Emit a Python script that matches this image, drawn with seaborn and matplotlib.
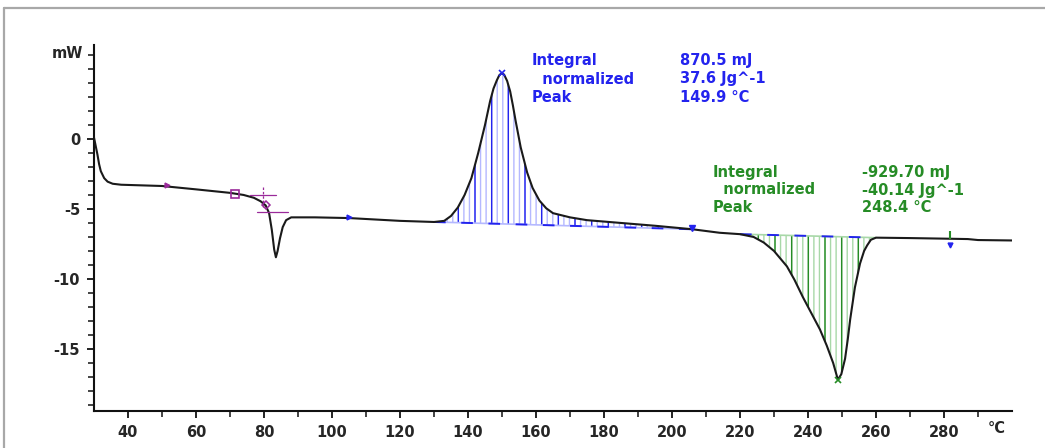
import numpy as np
import pandas as pd
import matplotlib
matplotlib.use("Agg")
import matplotlib.pyplot as plt
import seaborn as sns
from matplotlib.patches import Polygon
from matplotlib.lines import Line2D

# ---------------- data ----------------
temperature = [30.0, 30.5, 31.0, 31.5, 32.0, 33.0, 34.0, 35.5, 38.0, 42.0, 50.0, 60.0,
               70.0, 74.0, 77.0, 79.0, 80.5, 81.5, 82.3, 83.0, 83.5, 84.0, 84.7, 85.5,
               86.5, 88.0, 95.0, 105.0, 120.0, 130.0, 133.0, 135.0, 137.0, 139.0, 141.0,
               143.0, 145.0, 146.5, 147.5, 148.5, 149.2, 149.9, 150.6, 151.5, 152.4,
               153.2, 154.0, 155.5, 157.4, 159.0, 161.0, 163.0, 165.0, 170.0, 175.0,
               185.0, 195.0, 206.0, 214.0, 220.0, 224.0, 227.0, 230.0, 233.8, 236.0,
               238.5, 241.0, 243.5, 245.5, 247.4, 248.8, 249.8, 250.9, 251.7, 252.4,
               253.8, 255.3, 256.5, 257.4, 258.5, 260.0, 270.0, 280.0, 287.0, 290.0, 300.0]
heat_flow = [0.1, -0.5, -1.1, -1.8, -2.3, -2.8, -3.05, -3.2, -3.27, -3.3, -3.36, -3.6,
             -3.85, -4.0, -4.2, -4.45, -4.75, -5.3, -6.5, -7.9, -8.45, -8.0, -7.1, -6.3,
             -5.8, -5.6, -5.6, -5.65, -5.85, -5.93, -5.85, -5.5, -4.9, -4.0, -2.8,
             -1.0, 1.0, 2.7, 3.6, 4.2, 4.55, 4.7, 4.6, 4.15, 3.4,
             2.4, 1.3, -0.6, -2.4, -3.5, -4.4, -4.95, -5.3, -5.6, -5.8,
             -6.0, -6.2, -6.45, -6.7, -6.8, -7.0, -7.4, -8.0, -9.1, -10.05,
             -11.3, -12.45, -13.6, -14.75, -16.0, -17.2, -16.8, -15.7, -14.3, -12.9,
             -10.6, -8.9, -8.0, -7.6, -7.2, -7.05, -7.08, -7.12, -7.15, -7.22, -7.25]

exo_base_T = [130.0, 206.0]
exo_base_H = [-5.93, -6.45]
endo_base_T = [220.0, 260.0]
endo_base_H = [-6.8, -7.05]

exo_peak = (149.9, 4.7)
endo_peak = (248.8, -17.2)

x_ticks = [40, 60, 80, 100, 120, 140, 160, 180, 200, 220, 240, 260, 280]
y_ticks = [0, -5, -10, -15]

blue_labels = ["Integral", "  normalized", "Peak"]
blue_values = ["870.5 mJ", "37.6 Jg^-1", "149.9 \u00b0C"]
green_labels = ["Integral", "  normalized", "Peak"]
green_values = ["-929.70 mJ", "-40.14 Jg^-1", "248.4 \u00b0C"]

# ---------------- style ----------------
sns.set_style("ticks")
plt.rcParams["font.family"] = ["DejaVu Sans"]
plt.rcParams["hatch.linewidth"] = 1.0

BLUE = "#2323ee"
LBLUE = "#b4b8ff"
GREEN = "#268c26"
LGREEN = "#a8d8a8"
PURPLE = "#9a2a9a"

W, H = 1045, 448
fig = plt.figure(figsize=(W / 100, H / 100), dpi=100)
ax = fig.add_axes([94 / W, 1 - 411 / H, (1012 - 94) / W, (411 - 45) / H])

df = pd.DataFrame({"T": temperature, "mW": heat_flow})
T = np.array(temperature)
Hf = np.array(heat_flow)

# hatched areas
def hatched(t0, t1, base_T, base_H, dark, light):
    m = (T > t0) & (T < t1)
    pts = [(base_T[0], base_H[0])] + list(zip(T[m], Hf[m])) + [(base_T[1], base_H[1])]
    ax.add_patch(Polygon(pts, closed=True, fill=False, hatch="|||", edgecolor=light,
                         linewidth=0, zorder=1))
    ax.add_patch(Polygon(pts, closed=True, fill=False, hatch="|", edgecolor=dark,
                         linewidth=0, zorder=1.5))
    ax.plot(base_T, base_H, color=light, lw=1.2, zorder=2)
    ax.plot(base_T, base_H, color=BLUE, lw=1.4, dashes=(6, 8), zorder=2.1)

hatched(exo_base_T[0], exo_base_T[1], exo_base_T, exo_base_H, BLUE, LBLUE)
hatched(endo_base_T[0], endo_base_T[1], endo_base_T, endo_base_H, GREEN, LGREEN)

sns.lineplot(data=df, x="T", y="mW", ax=ax, color="#1a1a1a", lw=1.5, sort=False,
             estimator=None, zorder=3)

# markers
ax.plot(*exo_peak, marker="x", color=BLUE, ms=5, mew=1.2, zorder=4)
ax.plot(*endo_peak, marker="x", color=GREEN, ms=5, mew=1.2, zorder=4)
ax.plot(51.5, -3.3, marker=">", color=PURPLE, ms=3.5, zorder=4)
ax.plot(71.5, -3.93, marker="s", mfc="none", mec=PURPLE, ms=6, mew=1.2, zorder=4)
ax.plot([76, 83.5], [-4.0, -4.0], color=PURPLE, lw=0.9, zorder=4)
ax.plot([78, 87], [-5.2, -5.2], color=PURPLE, lw=0.9, zorder=4)
ax.plot([79.8, 79.8], [-3.4, -4.9], color=PURPLE, lw=0.9, ls=(0, (2, 1.5)), zorder=4)
ax.plot(80.6, -4.7, marker="D", mfc="none", mec=PURPLE, ms=4, mew=1.1, zorder=4)
ax.plot(105, -5.6, marker=">", color=BLUE, ms=3.5, zorder=4)
ax.plot(206, -6.35, marker="v", color=BLUE, ms=4, zorder=4)
ax.plot(281.8, -6.85, marker="|", color=GREEN, ms=6, mew=1.5, zorder=4)
ax.plot(281.8, -7.55, marker="v", color=BLUE, ms=3.5, zorder=4)

# axes
ax.set_xlim(30, 300)
ax.set_ylim(-19.43, 6.71)
ax.set_xticks(x_ticks)
ax.set_xticks(list(range(50, 300, 20)), minor=True)
ax.set_yticks(y_ticks)
ax.set_yticks(list(range(-19, 7)), minor=True)
ax.set_xticklabels([str(v) for v in x_ticks], fontweight="bold", fontsize=10.5)
ax.set_yticklabels([str(v) for v in y_ticks], fontweight="bold", fontsize=10.5)
ax.tick_params(which="major", direction="out", length=5, width=1.3, pad=5, color="#111111")
ax.tick_params(which="minor", direction="out", length=4, width=1.1, color="#111111")
ax.set_xlabel("")
ax.set_ylabel("")
sns.despine(ax=ax)
for s in ("left", "bottom"):
    ax.spines[s].set_linewidth(1.5)
    ax.spines[s].set_color("#111111")

fig.text(83 / W, 1 - 53 / H, "mW", ha="right", va="center", fontweight="bold", fontsize=10.5)
fig.text(997 / W, 1 - 428 / H, "\u00b0C", ha="center", va="center", fontweight="bold", fontsize=10.5)

rows_b = [60, 79, 97]
for lab, val, y in zip(blue_labels, blue_values, rows_b):
    fig.text(532 / W, 1 - y / H, lab, color=BLUE, fontweight="bold", fontsize=10.5, va="center")
    fig.text(680 / W, 1 - y / H, val, color=BLUE, fontweight="bold", fontsize=10.5, va="center")
rows_g = [172, 190, 207]
for lab, val, y in zip(green_labels, green_values, rows_g):
    fig.text(713 / W, 1 - y / H, lab, color=GREEN, fontweight="bold", fontsize=10.5, va="center")
    fig.text(862 / W, 1 - y / H, val, color=GREEN, fontweight="bold", fontsize=10.5, va="center")

# outer frame
fig.add_artist(Line2D([4 / W, 1], [1 - 8 / H, 1 - 8 / H], transform=fig.transFigure,
                      color="#a8a8a8", lw=1.6))
fig.add_artist(Line2D([4 / W, 4 / W], [0, 1 - 8 / H], transform=fig.transFigure,
                      color="#a8a8a8", lw=1.6))

fig.savefig("out.png", dpi=100)
